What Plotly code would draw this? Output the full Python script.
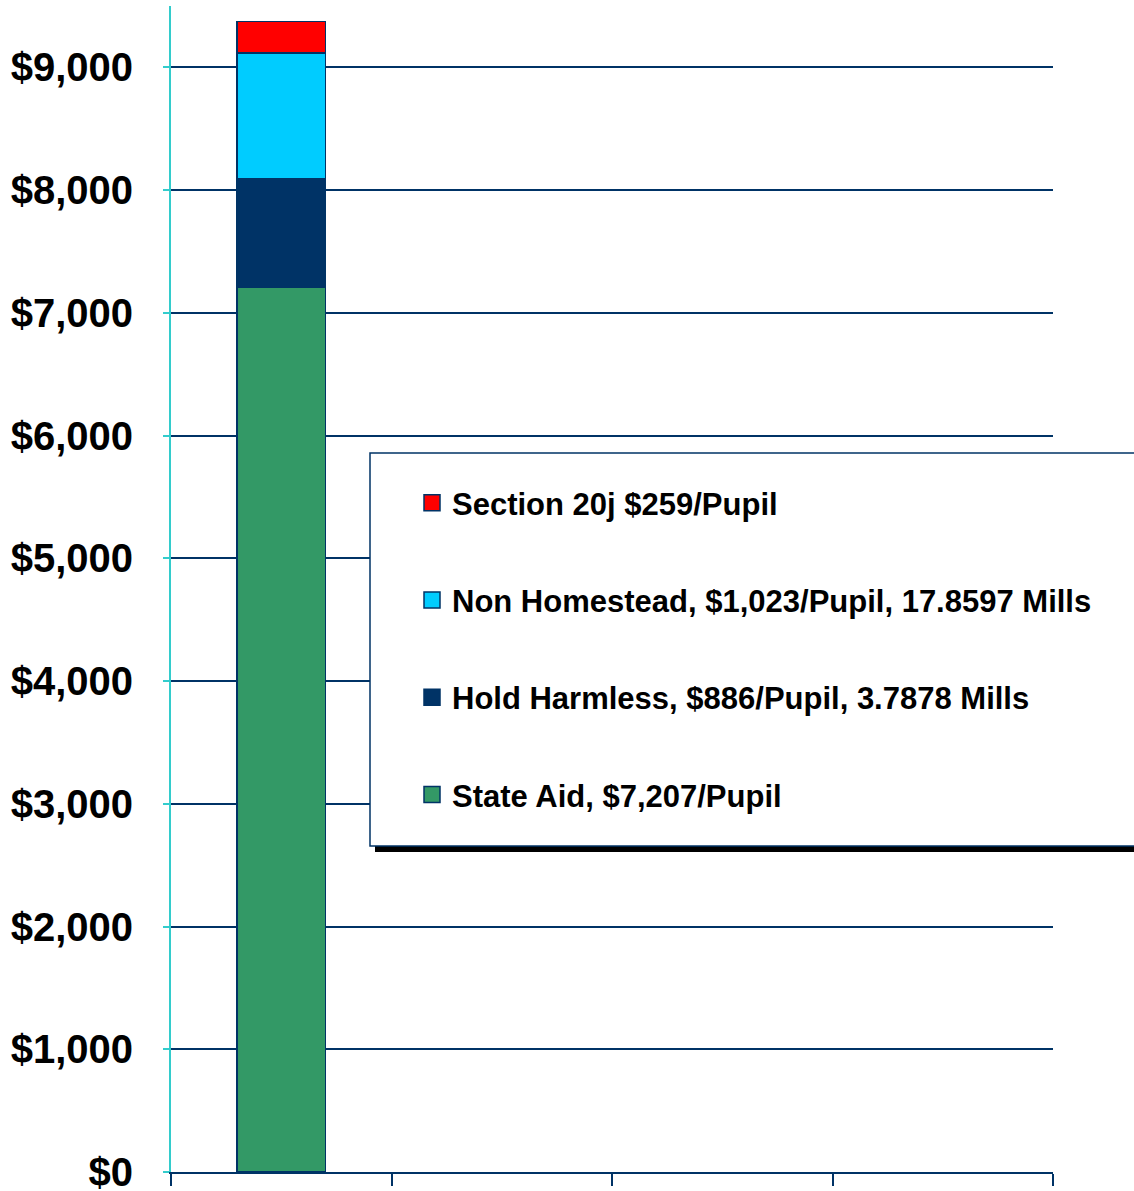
import plotly.graph_objects as go

# ---- data ----
series_names = [
    "State Aid, $7,207/Pupil",
    "Hold Harmless, $886/Pupil, 3.7878 Mills",
    "Non Homestead, $1,023/Pupil, 17.8597 Mills",
    "Section 20j $259/Pupil",
]
series_values = [7207, 886, 1023, 259]
series_colors = ["#339966", "#003366", "#00CCFF", "#FF0000"]
x_position = [0]
y_tick_vals = [0, 1000, 2000, 3000, 4000, 5000, 6000, 7000, 8000, 9000]
y_tick_text = ["$0", "$1,000", "$2,000", "$3,000", "$4,000", "$5,000",
               "$6,000", "$7,000", "$8,000", "$9,000"]
x_boundaries = [-0.5, 0.5, 1.5, 2.5, 3.5]

W, H = 1134, 1191
ML, MR, MT, MB = 171, 81, 6, 19
PW, PH = W - ML - MR, H - MT - MB


def px_x(p):
    return (p - ML) / PW


def px_y(p):
    return (H - MB - p) / PH


NAVY = "#003366"
FONT = "Liberation Sans, Arial, sans-serif"
fig = go.Figure()

# legend keys first, top-to-bottom order (Section 20j at top)
for i in reversed(range(len(series_names))):
    fig.add_trace(go.Scatter(
        x=[None], y=[None], name=series_names[i], mode="markers",
        marker=dict(symbol="square", size=18, color=series_colors[i],
                    line=dict(color=NAVY, width=1.5)),
        legendgroup=f"g{i}", showlegend=True, hoverinfo="skip",
    ))

# stacked bar segments, bottom-up
for i, (name, val, col) in enumerate(zip(series_names, series_values, series_colors)):
    fig.add_trace(go.Bar(
        x=x_position, y=[val], name=name, width=0.4,
        marker=dict(color=col, line=dict(color=NAVY, width=1.5)),
        legendgroup=f"g{i}", showlegend=False,
    ))

# legend frame + shadow
fig.add_shape(type="rect", xref="paper", yref="paper",
              x0=px_x(375), x1=px_x(1150), y0=px_y(852), y1=px_y(458),
              fillcolor="black", line=dict(width=0), layer="above")
fig.add_shape(type="rect", xref="paper", yref="paper",
              x0=px_x(370), x1=px_x(1145), y0=px_y(846), y1=px_y(453),
              fillcolor="white", line=dict(color=NAVY, width=1.5), layer="above")

fig.update_layout(
    width=W, height=H,
    margin=dict(l=ML, r=MR, t=MT, b=MB, pad=0, autoexpand=False),
    barmode="stack",
    plot_bgcolor="white", paper_bgcolor="white",
    font=dict(family=FONT, color="black"),
    showlegend=True,
    legend=dict(
        x=px_x(412), y=px_y(476), xanchor="left", yanchor="top",
        traceorder="grouped", tracegroupgap=54,
        bgcolor="rgba(0,0,0,0)", borderwidth=0,
        font=dict(size=31, weight="bold", family=FONT),
    ),
    xaxis=dict(
        range=[-0.5, 3.5], tickvals=x_boundaries, ticktext=[""] * len(x_boundaries),
        showgrid=False, zeroline=False, showline=True, linecolor=NAVY, linewidth=2,
        ticks="outside", ticklen=12, tickcolor=NAVY, tickwidth=2, automargin=False,
    ),
    yaxis=dict(
        range=[0, 9500], tickvals=y_tick_vals, ticktext=y_tick_text,
        showgrid=True, gridcolor=NAVY, gridwidth=1.5, zeroline=False,
        showline=True, linecolor="#33CCCC", linewidth=2,
        ticks="outside", ticklen=6, tickcolor="#33CCCC", tickwidth=2,
        tickfont=dict(size=40, weight="bold", family=FONT),
        ticklabelstandoff=22, ticklabeloverflow="allow", automargin=False,
    ),
)

fig.write_html("out.html", config={"displayModeBar": False},
               post_script="document.body.style.margin='0';")
